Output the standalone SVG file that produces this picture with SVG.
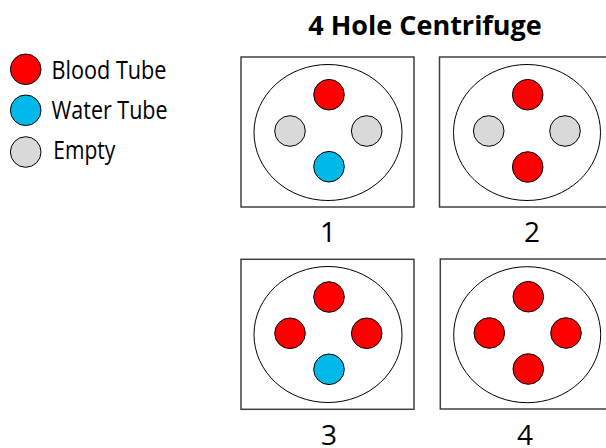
<svg xmlns="http://www.w3.org/2000/svg" width="606" height="448" viewBox="0 0 606 448">
<style>
text{font-family:"Open Sans","Noto Sans","Liberation Sans",sans-serif;fill:#000}
.title{font-size:27px;font-weight:bold;text-anchor:middle}
.leg{font-size:25.5px}
.num{font-size:28px;text-anchor:middle}
.box{fill:#fff;stroke:#404040;stroke-width:1.5}
.rotor{fill:#fff;stroke:#000;stroke-width:1}
.b{fill:#ff0000;stroke:#000;stroke-width:1}
.w{fill:#00b9e8;stroke:#000;stroke-width:1}
.e{fill:#d9d9d9;stroke:#000;stroke-width:1}
</style>
<rect width="606" height="448" fill="#fff"/>
<text class="title" x="425" y="35">4 Hole Centrifuge</text>
<g id="legend">
<circle class="b" cx="25.7" cy="69.3" r="15.3"/>
<text class="leg" x="51.5" y="79" textLength="115" lengthAdjust="spacingAndGlyphs">Blood Tube</text>
<circle class="w" cx="25.7" cy="110.3" r="15.3"/>
<text class="leg" x="51.5" y="119" textLength="116" lengthAdjust="spacingAndGlyphs">Water Tube</text>
<circle class="e" cx="25.7" cy="152" r="15.3"/>
<text class="leg" x="53.3" y="158.5" textLength="62" lengthAdjust="spacingAndGlyphs">Empty</text>
</g>
<g id="centrifuge1">
<rect class="box" x="241" y="57" width="173" height="150"/>
<ellipse class="rotor" cx="328" cy="132.5" rx="74" ry="68"/>
<circle class="b" cx="329" cy="94.7" r="15.3"/>
<circle class="e" cx="290" cy="131" r="15.3"/>
<circle class="e" cx="366.7" cy="131" r="15.3"/>
<circle class="w" cx="329" cy="166.7" r="15.3"/>
<text class="num" x="328" y="242">1</text>
</g>
<g id="centrifuge2">
<rect class="box" x="439.5" y="57" width="173" height="150"/>
<ellipse class="rotor" cx="527" cy="132.5" rx="73.5" ry="68"/>
<circle class="b" cx="527.7" cy="94.7" r="15.3"/>
<circle class="e" cx="488.7" cy="131" r="15.3"/>
<circle class="e" cx="565" cy="131" r="15.3"/>
<circle class="b" cx="527.7" cy="167" r="15.3"/>
<text class="num" x="532" y="242">2</text>
</g>
<g id="centrifuge3">
<rect class="box" x="241" y="259.3" width="173" height="150"/>
<ellipse class="rotor" cx="328" cy="334.5" rx="74" ry="68"/>
<circle class="b" cx="329" cy="297" r="15.3"/>
<circle class="b" cx="290" cy="333.3" r="15.3"/>
<circle class="b" cx="366.7" cy="333.3" r="15.3"/>
<circle class="w" cx="329" cy="369.3" r="15.3"/>
<text class="num" x="329" y="444.5">3</text>
</g>
<g id="centrifuge4">
<rect class="box" x="440.3" y="259" width="173" height="150"/>
<ellipse class="rotor" cx="527.2" cy="334.7" rx="73.5" ry="68"/>
<circle class="b" cx="528.3" cy="296.7" r="15.3"/>
<circle class="b" cx="489.3" cy="333" r="15.3"/>
<circle class="b" cx="566" cy="333" r="15.3"/>
<circle class="b" cx="528.3" cy="369" r="15.3"/>
<text class="num" x="525" y="444.5">4</text>
</g>
</svg>
